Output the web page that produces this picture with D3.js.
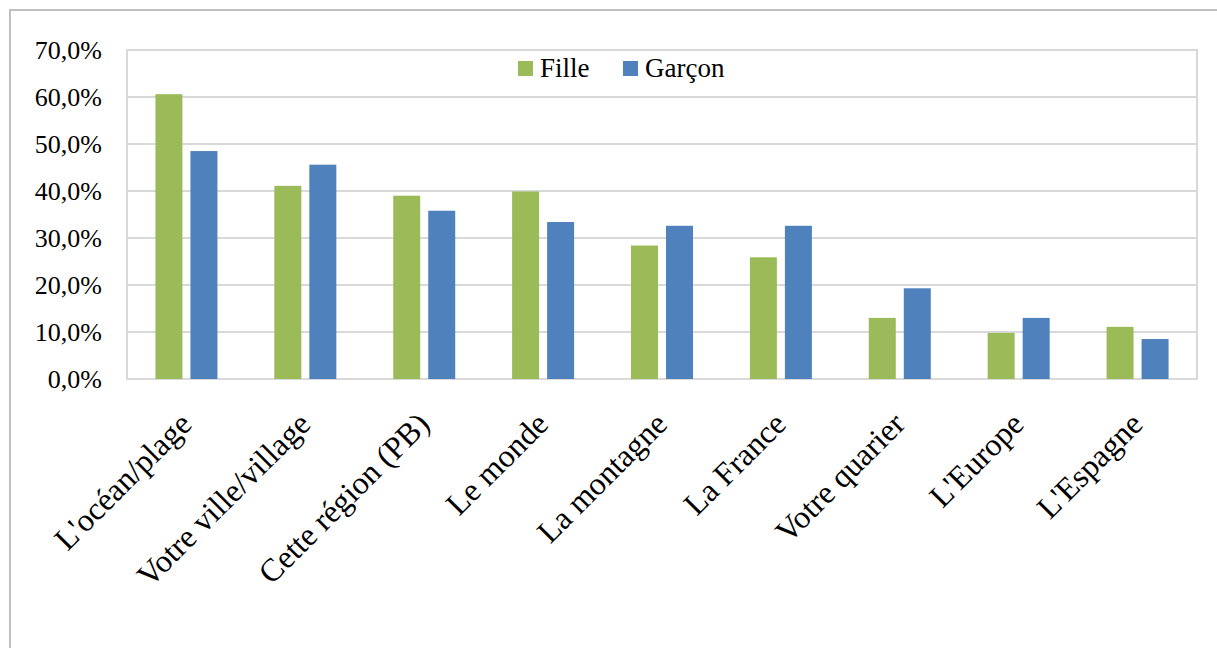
<!DOCTYPE html>
<html>
<head>
<meta charset="utf-8">
<script src="https://cdn.jsdelivr.net/npm/d3@7"></script>
<style>
  body { margin: 0; background: #fff; }
  text { font-family: "Liberation Serif", "DejaVu Serif", serif; fill: #000; }
</style>
</head>
<body>
<div id="chart"></div>
<script>
// donnees
var categories = ["L'océan/plage", "Votre ville/village", "Cette région (PB)", "Le monde",
                  "La montagne", "La France", "Votre quarier", "L'Europe", "L'Espagne"];
var series = ["Fille", "Garçon"];
var fille  = [60.6, 41.1, 39.0, 39.9, 28.4, 25.9, 13.0, 9.8, 11.1];
var garcon = [48.5, 45.6, 35.8, 33.4, 32.6, 32.6, 19.3, 13.0, 8.5];
var yTicks = [0, 10, 20, 30, 40, 50, 60, 70];
var colors = ["#9bbb59", "#4f81bd"];

var W = 1217, H = 648;
var plotLeft = 127, plotRight = 1197, plotTop = 50, plotBottom = 379;

var svg = d3.select("#chart").append("svg")
    .attr("width", W).attr("height", H);

// cadre exterieur
svg.append("rect")
    .attr("x", 10).attr("y", 10)
    .attr("width", W + 20).attr("height", H + 20)
    .attr("fill", "none").attr("stroke", "#bfbfbf").attr("stroke-width", 2);

var x = d3.scaleBand().domain(categories).range([plotLeft, plotRight]);
var xSub = d3.scaleBand().domain(series).range([0, 62]).paddingInner(0.229);
var y = d3.scaleLinear().domain([0, 70]).range([plotBottom, plotTop]);

// grille
svg.append("g")
  .selectAll("line")
  .data(yTicks)
  .enter().append("line")
    .attr("x1", plotLeft).attr("x2", plotRight)
    .attr("y1", d => y(d)).attr("y2", d => y(d))
    .attr("stroke", "#d9d9d9").attr("stroke-width", 2);

svg.append("rect")
    .attr("x", plotLeft).attr("y", plotTop)
    .attr("width", plotRight - plotLeft).attr("height", plotBottom - plotTop)
    .attr("fill", "none").attr("stroke", "#d9d9d9").attr("stroke-width", 2);

// axe y
var yAxis = svg.append("g")
    .attr("transform", "translate(" + 102 + ",0)")
    .call(d3.axisLeft(y).tickValues(yTicks).tickSize(0).tickPadding(0)
        .tickFormat(d => d3.format(".1f")(d).replace(".", ",") + "%"));
yAxis.select(".domain").remove();
yAxis.selectAll("text")
    .style("font-size", "26px")
    .attr("dy", "0.34em");

// barres
var data = categories.map((c, i) => ({cat: c, vals: [fille[i], garcon[i]]}));
var groups = svg.selectAll(".grp")
    .data(data)
  .enter().append("g")
    .attr("class", "grp")
    .attr("transform", d => "translate(" + (x(d.cat) + x.bandwidth() / 2 - 31) + ",0)");

groups.selectAll("rect")
    .data(d => d.vals.map((v, j) => ({s: series[j], v: v, j: j})))
  .enter().append("rect")
    .attr("x", d => xSub(d.s))
    .attr("width", xSub.bandwidth())
    .attr("y", d => y(d.v))
    .attr("height", d => plotBottom - y(d.v))
    .attr("fill", d => colors[d.j]);

// axe x (etiquettes inclinees)
var xAxis = svg.append("g")
    .attr("transform", "translate(0," + plotBottom + ")")
    .call(d3.axisBottom(x).tickSize(0));
xAxis.select(".domain").remove();
xAxis.selectAll("text")
    .style("font-size", "32px")
    .style("text-anchor", "end")
    .attr("x", 7).attr("y", 47).attr("dy", 0)
    .attr("transform", "rotate(-45, 7, 47)");

// legende
var legendX = [518, 623];
var legend = svg.selectAll(".leg")
    .data(series)
  .enter().append("g")
    .attr("class", "leg")
    .attr("transform", (d, i) => "translate(" + legendX[i] + ",61)");
legend.append("rect")
    .attr("width", 15).attr("height", 15)
    .attr("fill", (d, i) => colors[i]);
legend.append("text")
    .attr("x", 22).attr("y", 16)
    .style("font-size", "27px")
    .text(d => d);
</script>
</body>
</html>
